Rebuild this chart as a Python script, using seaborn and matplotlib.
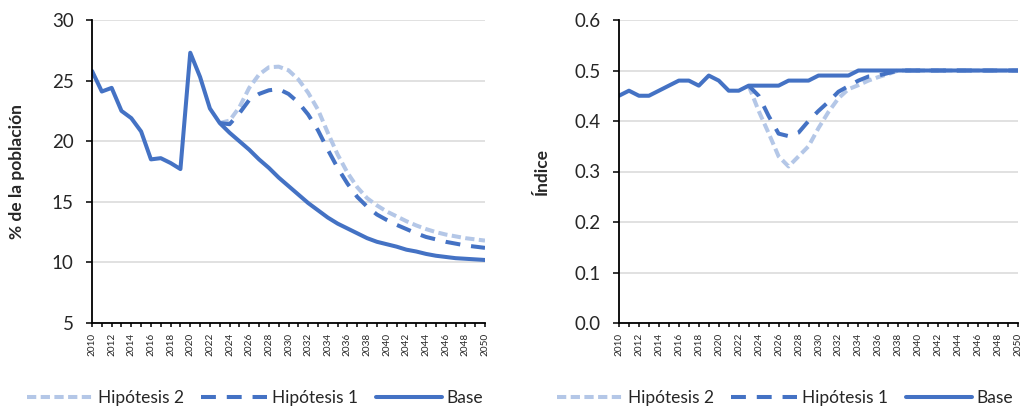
import numpy as np
import pandas as pd
import matplotlib
matplotlib.use('Agg')
import matplotlib.pyplot as plt
import seaborn as sns

# years on the x axis, hypotheses start where they split from the base
years = list(range(2010, 2051))
proj_years = list(range(2023, 2051))

# left panel: % de la población
base_pob = [25.8, 24.1, 24.4, 22.5, 21.9, 20.8, 18.5, 18.6, 18.2, 17.7,
            27.3, 25.3, 22.7, 21.5, 20.7, 20.0, 19.3, 18.5, 17.8, 17.0,
            16.3, 15.6, 14.9, 14.3, 13.7, 13.2, 12.8, 12.4, 12.0, 11.7,
            11.5, 11.3, 11.05, 10.9, 10.7, 10.55, 10.45, 10.35, 10.3, 10.25,
            10.2]
hip1_pob = [21.5, 21.4, 22.3, 23.4, 23.9, 24.2, 24.3, 23.9, 23.2, 22.2,
            20.9, 19.3, 17.8, 16.5, 15.4, 14.6, 13.95, 13.5, 13.1, 12.75,
            12.4, 12.1, 11.9, 11.7, 11.55, 11.4, 11.3, 11.2]
hip2_pob = [21.5, 21.7, 22.8, 24.4, 25.5, 26.1, 26.15, 25.85, 25.1, 24.0,
            22.6, 20.7, 18.9, 17.4, 16.2, 15.3, 14.7, 14.2, 13.8, 13.4,
            13.05, 12.75, 12.5, 12.3, 12.15, 12.0, 11.9, 11.8]

# right panel: Índice
base_ind = [0.45, 0.46, 0.45, 0.45, 0.46, 0.47, 0.48, 0.48, 0.47, 0.49,
            0.48, 0.46, 0.46, 0.47, 0.47, 0.47, 0.47, 0.48, 0.48, 0.48,
            0.49, 0.49, 0.49, 0.49, 0.50, 0.50, 0.50, 0.50, 0.50, 0.50,
            0.50, 0.50, 0.50, 0.50, 0.50, 0.50, 0.50, 0.50, 0.50, 0.50,
            0.50]
hip1_ind = [0.47, 0.45, 0.41, 0.375, 0.37, 0.377, 0.40, 0.42, 0.438, 0.458,
            0.469, 0.48, 0.488, 0.49, 0.495, 0.50, 0.50, 0.50, 0.50, 0.50,
            0.50, 0.50, 0.50, 0.50, 0.50, 0.50, 0.50, 0.50]
hip2_ind = [0.47, 0.42, 0.376, 0.33, 0.31, 0.33, 0.35, 0.386, 0.418, 0.445,
            0.463, 0.471, 0.48, 0.487, 0.493, 0.50, 0.50, 0.50, 0.50, 0.50,
            0.50, 0.50, 0.50, 0.50, 0.50, 0.50, 0.50, 0.50]

labels = ['Hipótesis 2', 'Hipótesis 1', 'Base']
dark_blue = '#4472C4'
light_blue = '#B4C7E7'

sns.set_theme(style='white')
plt.rcParams['font.family'] = ['Lato', 'DejaVu Sans']

fig = plt.figure(figsize=(10.22, 4.08), dpi=100)
ax1 = fig.add_axes([92/1022, 1 - 323/408, 393/1022, 303/408])
ax2 = fig.add_axes([619/1022, 1 - 323/408, 399/1022, 303/408])


def draw_panel(ax, base, hip1, hip2, ylim, yticks, yfmt, ylabel):
    lw = 2.9
    sns.lineplot(x=proj_years, y=hip2, ax=ax, color=light_blue, lw=lw,
                 linestyle=(0, (2.3, 1.1)), label=labels[0], legend=False)
    sns.lineplot(x=proj_years, y=hip1, ax=ax, color=dark_blue, lw=lw,
                 linestyle=(0, (3.7, 2.7)), label=labels[1], legend=False)
    sns.lineplot(x=years, y=base, ax=ax, color=dark_blue, lw=lw,
                 label=labels[2], legend=False)
    for ln in ax.lines:
        ln.set_dash_capstyle('butt')
        ln.set_solid_capstyle('round')
        ln.set_solid_joinstyle('round')

    ax.set_xlim(2010, 2050)
    ax.set_ylim(*ylim)
    ax.set_yticks(yticks)
    ax.set_yticklabels([yfmt.format(v) for v in yticks], fontsize=13.5, color='#262626')
    ax.set_xticks(years)
    ax.set_xticklabels([str(y) if y % 2 == 0 else '' for y in years],
                       rotation=90, fontsize=7.2, color='#262626')
    ax.tick_params(axis='both', which='major', direction='out',
                   width=1.1, color='black', bottom=True, left=True)
    ax.tick_params(axis='y', length=4.3, pad=9)
    ax.tick_params(axis='x', length=3, pad=4)

    ax.grid(axis='y', color='#d9d9d9', lw=1.1)
    ax.grid(axis='x', visible=False)
    ax.set_axisbelow(True)
    for side in ['top', 'right']:
        ax.spines[side].set_visible(False)
    for side in ['left', 'bottom']:
        ax.spines[side].set_color('black')
        ax.spines[side].set_linewidth(1.3)

    ax.set_xlabel('')
    ax.set_ylabel(ylabel, fontsize=12.5, fontweight='bold', color='#262626')

    handles = ax.lines[:3]
    return handles


h1 = draw_panel(ax1, base_pob, hip1_pob, hip2_pob, (5, 30), [5, 10, 15, 20, 25, 30],
                '{:.0f}', '% de la población')
h2 = draw_panel(ax2, base_ind, hip1_ind, hip2_ind, (0, 0.6),
                [0.0, 0.1, 0.2, 0.3, 0.4, 0.5, 0.6], '{:.1f}', 'Índice')
ax1.yaxis.set_label_coords(-0.17, 0.5)
ax2.yaxis.set_label_coords(-0.173, 0.5)

for handles, cx in [(h1, 255/1022), (h2, 785/1022)]:
    fig.legend(handles, labels, loc='center', bbox_to_anchor=(cx, 1 - 398/408),
               ncol=3, frameon=False, fontsize=12.5, handlelength=3.8,
               handletextpad=0.3, columnspacing=1.0, labelcolor='#262626')

fig.savefig('out.png', dpi=100, facecolor='white')
